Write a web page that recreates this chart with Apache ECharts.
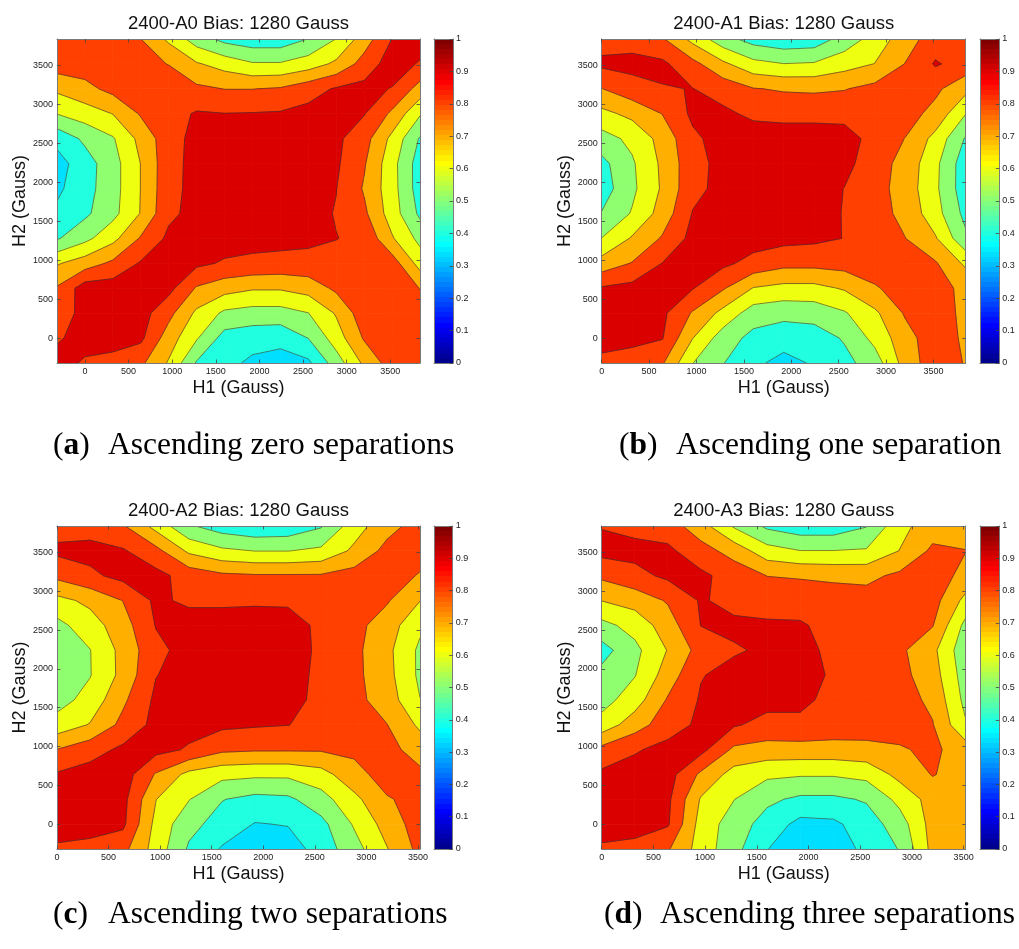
<!DOCTYPE html>
<html>
<head>
<meta charset="utf-8">
<script src="https://cdn.jsdelivr.net/npm/echarts@6/dist/echarts.min.js"></script>
<style>html,body{margin:0;padding:0;background:#fff}#c{width:1019px;height:949px}</style>
</head>
<body>
<div id="c"></div>
<script>
// ================= DATA =================
// H2 grid (rows, top to bottom) shared by all four maps
const h2Rows = [3840, 3520, 3200, 2880, 2560, 2240, 1920, 1600, 1280, 960, 640, 320, 0, -320];
// H1 grid (columns) of each map
const h1ColsA0 = [-320, 0, 320, 640, 960, 1280, 1600, 1920, 2240, 2560, 2880, 3200, 3520, 3840];
const h1ColsA1 = [0, 320, 640, 960, 1280, 1600, 1920, 2240, 2560, 2880, 3200, 3520, 3840];
const h1ColsA2 = [0, 320, 640, 960, 1280, 1600, 1920, 2240, 2560, 2880, 3200, 3520];
const h1ColsA3 = [0, 320, 640, 960, 1280, 1600, 1920, 2240, 2560, 2880, 3200, 3520];

// measured map values, one row per H2 value (top row = 3840)
const valuesA0 = [
  [0.86,0.85,0.84,0.801,0.68,0.55,0.47,0.44,0.44,0.502,0.602,0.75,0.902,0.95],
  [0.85,0.85,0.84,0.82,0.798,0.71,0.66,0.61,0.61,0.65,0.72,0.84,0.95,0.89],
  [0.72,0.77,0.83,0.85,0.84,0.82,0.798,0.798,0.81,0.86,0.91,0.93,0.895,0.76],
  [0.602,0.65,0.702,0.81,0.86,0.91,0.902,0.905,0.91,0.93,0.94,0.905,0.78,0.61],
  [0.43,0.52,0.59,0.73,0.86,0.93,0.95,0.95,0.95,0.94,0.92,0.84,0.673,0.49],
  [0.36,0.455,0.56,0.702,0.867,0.93,0.96,0.96,0.96,0.95,0.915,0.81,0.636,0.45],
  [0.38,0.462,0.56,0.702,0.87,0.93,0.95,0.95,0.95,0.94,0.902,0.79,0.64,0.45],
  [0.42,0.48,0.57,0.705,0.88,0.93,0.94,0.94,0.94,0.93,0.895,0.82,0.65,0.48],
  [0.49,0.572,0.67,0.81,0.92,0.94,0.94,0.93,0.93,0.92,0.902,0.88,0.71,0.57],
  [0.69,0.75,0.82,0.91,0.94,0.92,0.89,0.88,0.87,0.87,0.87,0.87,0.85,0.66],
  [0.81,0.95,0.95,0.95,0.93,0.79,0.74,0.71,0.71,0.74,0.82,0.86,0.85,0.798],
  [0.85,0.93,0.95,0.94,0.83,0.68,0.58,0.56,0.56,0.598,0.71,0.86,0.85,0.82],
  [0.89,0.93,0.95,0.92,0.75,0.61,0.46,0.44,0.43,0.502,0.65,0.81,0.86,0.85],
  [0.93,0.89,0.86,0.82,0.69,0.49,0.43,0.38,0.36,0.38,0.55,0.72,0.85,0.85]
];
const valuesA1 = [
  [0.86,0.86,0.81,0.67,0.538,0.46,0.43,0.44,0.54,0.64,0.754,0.85,0.86],
  [0.92,0.93,0.92,0.83,0.72,0.63,0.602,0.61,0.66,0.702,0.802,0.91,0.86],
  [0.797,0.86,0.895,0.902,0.86,0.805,0.79,0.785,0.795,0.83,0.85,0.82,0.73],
  [0.672,0.726,0.802,0.92,0.92,0.88,0.87,0.87,0.87,0.87,0.84,0.77,0.602],
  [0.56,0.624,0.735,0.88,0.94,0.95,0.95,0.95,0.94,0.867,0.798,0.668,0.49],
  [0.47,0.586,0.719,0.865,0.93,0.95,0.96,0.96,0.93,0.844,0.767,0.625,0.44],
  [0.45,0.578,0.713,0.872,0.93,0.95,0.95,0.95,0.898,0.839,0.757,0.62,0.44],
  [0.505,0.608,0.741,0.905,0.94,0.94,0.94,0.94,0.895,0.84,0.773,0.64,0.47],
  [0.602,0.71,0.81,0.93,0.94,0.94,0.93,0.92,0.898,0.86,0.802,0.71,0.52],
  [0.74,0.805,0.902,0.93,0.92,0.87,0.83,0.83,0.84,0.85,0.84,0.81,0.68],
  [0.91,0.93,0.93,0.905,0.81,0.695,0.67,0.67,0.71,0.79,0.84,0.83,0.78],
  [0.93,0.94,0.92,0.79,0.67,0.55,0.53,0.54,0.59,0.68,0.81,0.84,0.78],
  [0.93,0.93,0.905,0.702,0.55,0.47,0.44,0.45,0.51,0.63,0.76,0.86,0.78],
  [0.88,0.85,0.81,0.602,0.504,0.42,0.37,0.41,0.47,0.55,0.74,0.86,0.793]
];
const valuesA2 = [
  [0.86,0.86,0.81,0.665,0.512,0.45,0.42,0.43,0.49,0.653,0.765,0.84],
  [0.92,0.93,0.91,0.83,0.68,0.62,0.598,0.598,0.62,0.72,0.83,0.85],
  [0.825,0.88,0.93,0.93,0.86,0.82,0.81,0.81,0.81,0.84,0.86,0.79],
  [0.67,0.723,0.802,0.92,0.88,0.88,0.885,0.885,0.87,0.85,0.81,0.702],
  [0.57,0.655,0.757,0.905,0.95,0.95,0.95,0.94,0.88,0.832,0.75,0.62],
  [0.54,0.597,0.732,0.872,0.94,0.96,0.96,0.95,0.88,0.826,0.727,0.58],
  [0.54,0.595,0.73,0.897,0.94,0.95,0.95,0.94,0.877,0.827,0.734,0.58],
  [0.56,0.637,0.781,0.92,0.94,0.94,0.94,0.93,0.876,0.83,0.753,0.602],
  [0.64,0.706,0.828,0.93,0.93,0.92,0.91,0.902,0.87,0.86,0.802,0.68],
  [0.802,0.86,0.92,0.93,0.89,0.82,0.81,0.81,0.81,0.82,0.83,0.76],
  [0.91,0.94,0.95,0.79,0.67,0.63,0.62,0.62,0.66,0.767,0.84,0.82],
  [0.93,0.95,0.93,0.702,0.604,0.504,0.47,0.48,0.56,0.672,0.792,0.83],
  [0.93,0.94,0.92,0.67,0.53,0.46,0.395,0.405,0.47,0.61,0.74,0.85],
  [0.89,0.87,0.83,0.658,0.486,0.39,0.35,0.35,0.443,0.56,0.695,0.83]
];
const valuesA3 = [
  [0.895,0.87,0.85,0.74,0.587,0.48,0.44,0.44,0.495,0.67,0.75,0.76],
  [0.93,0.93,0.92,0.84,0.76,0.64,0.602,0.602,0.61,0.702,0.82,0.802],
  [0.82,0.87,0.92,0.92,0.86,0.798,0.79,0.78,0.775,0.82,0.85,0.77],
  [0.702,0.74,0.81,0.91,0.87,0.87,0.86,0.85,0.84,0.84,0.84,0.67],
  [0.57,0.636,0.752,0.902,0.92,0.91,0.91,0.87,0.86,0.85,0.805,0.57],
  [0.46,0.573,0.705,0.84,0.89,0.915,0.94,0.87,0.84,0.82,0.726,0.53],
  [0.53,0.595,0.748,0.895,0.93,0.94,0.93,0.89,0.85,0.83,0.747,0.55],
  [0.56,0.654,0.81,0.91,0.93,0.93,0.92,0.875,0.85,0.84,0.78,0.57],
  [0.64,0.754,0.856,0.92,0.91,0.87,0.88,0.86,0.85,0.84,0.805,0.61],
  [0.83,0.89,0.93,0.93,0.78,0.76,0.76,0.76,0.77,0.79,0.82,0.75],
  [0.92,0.94,0.94,0.78,0.66,0.62,0.61,0.61,0.63,0.73,0.805,0.76],
  [0.93,0.94,0.92,0.69,0.602,0.52,0.48,0.48,0.51,0.63,0.74,0.76],
  [0.93,0.94,0.91,0.66,0.55,0.46,0.37,0.38,0.45,0.55,0.74,0.76],
  [0.89,0.87,0.81,0.656,0.533,0.402,0.35,0.35,0.423,0.505,0.73,0.76]
];

// tick labels
const h1TickValues = [0, 500, 1000, 1500, 2000, 2500, 3000, 3500];
const h2TickValues = [0, 500, 1000, 1500, 2000, 2500, 3000, 3500];
const colorbarTicks = [0, 0.1, 0.2, 0.3, 0.4, 0.5, 0.6, 0.7, 0.8, 0.9, 1];
const contourLevels = [0.4, 0.5, 0.6, 0.7, 0.8, 0.9];

// texts
const mapTitles = ['2400-A0 Bias: 1280 Gauss', '2400-A1 Bias: 1280 Gauss', '2400-A2 Bias: 1280 Gauss', '2400-A3 Bias: 1280 Gauss'];
const captionLetters = ['a', 'b', 'c', 'd'];
const captionTexts = ['Ascending zero separations', 'Ascending one separation', 'Ascending two separations', 'Ascending three separations'];

// ================= STYLE / LAYOUT =================
const SANS = 'Liberation Sans, Arial, sans-serif';
const SERIF = 'Liberation Serif, Times New Roman, serif';
const bandEdges = [-1, 0.4, 0.5, 0.6, 0.7, 0.8, 0.9, 2];
const bandColors = ['rgb(0,223,255)', 'rgb(32,255,223)', 'rgb(143,255,112)', 'rgb(239,255,16)', 'rgb(255,175,0)', 'rgb(255,64,0)', 'rgb(218,0,0)'];
const layout = [
  {grid: [57, 39, 363, 324], cbar: [434, 39, 19, 324], title: [238.5, 24], cap: [53, 108, 446]},
  {grid: [601.7, 39, 364, 324], cbar: [980, 39, 19.3, 324], title: [783.7, 24], cap: [619, 676, 446]},
  {grid: [57, 526, 363, 323], cbar: [434, 526, 18.7, 323], title: [238.5, 511], cap: [53, 108, 915]},
  {grid: [601.7, 526, 364, 323], cbar: [980, 526, 19.3, 323], title: [783.7, 511], cap: [604, 660, 915]}
];
const panels = [
  {xs: h1ColsA0, vals: valuesA0},
  {xs: h1ColsA1, vals: valuesA1},
  {xs: h1ColsA2, vals: valuesA2},
  {xs: h1ColsA3, vals: valuesA3}
];

// MATLAB-style jet(64) colormap for the colorbar
function jetMap(m) {
  const n = Math.ceil(m / 4), u = [];
  for (let i = 1; i <= n; i++) u.push(i / n);
  for (let i = 0; i < n - 1; i++) u.push(1);
  for (let i = n; i >= 1; i--) u.push(i / n);
  const gOff = Math.ceil(n / 2) - (m % 4 === 1 ? 1 : 0);
  const J = [];
  for (let i = 0; i < m; i++) J.push([0, 0, 0]);
  for (let k = 0; k < u.length; k++) {
    const g = gOff + k + 1, r = g + n, b = g - n;
    if (g <= m) J[g - 1][1] = u[k];
    if (r <= m) J[r - 1][0] = u[k];
    if (b >= 1) J[b - 1][2] = u[k];
  }
  return J.map(c => 'rgb(' + c.map(v => Math.round(v * 255)).join(',') + ')');
}
const jet = jetMap(64);
const jetStops = [];
jet.forEach((c, i) => { jetStops.push({offset: i / 64, color: c}); jetStops.push({offset: (i + 1) / 64, color: c}); });

// ---- contour geometry (clip each grid cell against level values) ----
function crossPt(S, E, L) {
  const t = (L - S[2]) / (E[2] - S[2]);
  return [S[0] + t * (E[0] - S[0]), S[1] + t * (E[1] - S[1]), L, true];
}
function clipPoly(poly, L, above) {
  const out = [], n = poly.length;
  if (!n) return out;
  const inside = p => above ? p[2] >= L : p[2] <= L;
  let S = poly[n - 1];
  for (let k = 0; k < n; k++) {
    const E = poly[k], eIn = inside(E), sIn = inside(S);
    if (eIn) { if (!sIn) out.push(crossPt(S, E, L)); out.push([E[0], E[1], E[2], E[3]]); }
    else if (sIn) out.push(crossPt(S, E, L));
    S = E;
  }
  return out;
}
function cellPoly(p, i, j) {
  const xs = p.xs, v = p.vals;
  return [
    [xs[i], h2Rows[j], v[j][i], false],
    [xs[i + 1], h2Rows[j], v[j][i + 1], false],
    [xs[i + 1], h2Rows[j + 1], v[j + 1][i + 1], false],
    [xs[i], h2Rows[j + 1], v[j + 1][i], false]
  ];
}
function makeFill(p) {
  return function (params, api) {
    const i = api.value(2), j = api.value(3);
    const poly = cellPoly(p, i, j), children = [];
    for (let b = 0; b < bandEdges.length - 1; b++) {
      let q = clipPoly(poly, bandEdges[b], true);
      q = clipPoly(q, bandEdges[b + 1], false);
      if (q.length < 3) continue;
      children.push({type: 'polygon', shape: {points: q.map(t => api.coord([t[0], t[1]]))},
        style: {fill: bandColors[b], stroke: bandColors[b], lineWidth: 0.8}});
    }
    return {type: 'group', children};
  };
}
function makeLines(p) {
  return function (params, api) {
    const i = api.value(2), j = api.value(3);
    const poly = cellPoly(p, i, j), children = [];
    contourLevels.forEach(L => {
      const q = clipPoly(poly, L, true), n = q.length;
      if (n < 3) return;
      for (let k = 0; k < n; k++) {
        const a = q[k], b = q[(k + 1) % n];
        if (a[3] && b[3]) {
          const pa = api.coord([a[0], a[1]]), pb = api.coord([b[0], b[1]]);
          children.push({type: 'line', shape: {x1: pa[0], y1: pa[1], x2: pb[0], y2: pb[1]},
            style: {stroke: '#333', lineWidth: 0.6}});
        }
      }
    });
    return {type: 'group', children};
  };
}
function colorbarRender(params, api) {
  const p0 = api.coord([0, 0]), p1 = api.coord([1, 1]);
  return {type: 'rect', shape: {x: p0[0], y: p1[1], width: p1[0] - p0[0], height: p0[1] - p1[1]},
    style: {fill: new echarts.graphic.LinearGradient(0, 1, 0, 0, jetStops)}};
}

function axisBase(extra, ticks, showLabel, labelExtra) {
  const a = {
    type: 'value', z: 10, silent: true,
    axisLine: {show: true, onZero: false, lineStyle: {color: '#7a7a7a', width: 1}},
    axisTick: {show: true, inside: true, length: 3.5, customValues: ticks, lineStyle: {color: '#444', width: 0.8}},
    axisLabel: Object.assign({show: showLabel, customValues: ticks, fontSize: 9, color: '#222', fontFamily: SANS, margin: 4,
      formatter: v => String(v)}, labelExtra || {}),
    splitLine: {show: false}, splitArea: {show: false}
  };
  return Object.assign(a, extra);
}

const grids = [], xAxes = [], yAxes = [], series = [], elements = [];
const yMin = Math.min.apply(null, h2Rows), yMax = Math.max.apply(null, h2Rows);
panels.forEach((p, k) => {
  const L = layout[k];
  const gMain = grids.length;
  grids.push({left: L.grid[0], top: L.grid[1], width: L.grid[2], height: L.grid[3], containLabel: false, outerBoundsMode: 'none'});
  const gBar = grids.length;
  grids.push({left: L.cbar[0], top: L.cbar[1], width: L.cbar[2], height: L.cbar[3], containLabel: false, outerBoundsMode: 'none'});
  const xMin = p.xs[0], xMax = p.xs[p.xs.length - 1];
  const xb = xAxes.length;
  xAxes.push(axisBase({gridIndex: gMain, position: 'bottom', min: xMin, max: xMax,
    name: 'H1 (Gauss)', nameLocation: 'middle', nameGap: 16,
    nameTextStyle: {fontSize: 18, fontFamily: SANS, color: '#111'}}, h1TickValues, true));
  xAxes.push(axisBase({gridIndex: gMain, position: 'top', min: xMin, max: xMax}, h1TickValues, false));
  const xc = xAxes.length;
  xAxes.push({type: 'value', gridIndex: gBar, min: 0, max: 1, show: false});
  const yl = yAxes.length;
  yAxes.push(axisBase({gridIndex: gMain, position: 'left', min: yMin, max: yMax,
    name: 'H2 (Gauss)', nameLocation: 'middle', nameGap: 25, nameRotate: 90,
    nameTextStyle: {fontSize: 18, fontFamily: SANS, color: '#111'}}, h2TickValues, true));
  yAxes.push(axisBase({gridIndex: gMain, position: 'right', min: yMin, max: yMax}, h2TickValues, false));
  const yc = yAxes.length;
  yAxes.push(axisBase({gridIndex: gBar, position: 'right', min: 0, max: 1}, colorbarTicks, true,
    {margin: 3, formatter: v => String(Math.round(v * 10) / 10)}));
  // box for colorbar (left/top/bottom lines)
  yAxes.push({type: 'value', gridIndex: gBar, position: 'left', min: 0, max: 1, z: 10,
    axisLine: {show: true, onZero: false, lineStyle: {color: '#7a7a7a'}}, axisTick: {show: false}, axisLabel: {show: false}, splitLine: {show: false}});
  xAxes.push({type: 'value', gridIndex: gBar, position: 'top', min: 0, max: 1, z: 10,
    axisLine: {show: true, onZero: false, lineStyle: {color: '#7a7a7a'}}, axisTick: {show: false}, axisLabel: {show: false}, splitLine: {show: false}});
  xAxes.push({type: 'value', gridIndex: gBar, position: 'bottom', min: 0, max: 1, z: 10,
    axisLine: {show: true, onZero: false, lineStyle: {color: '#7a7a7a'}}, axisTick: {show: false}, axisLabel: {show: false}, splitLine: {show: false}});

  const cells = [];
  for (let j = 0; j < h2Rows.length - 1; j++)
    for (let i = 0; i < p.xs.length - 1; i++)
      cells.push([(p.xs[i] + p.xs[i + 1]) / 2, (h2Rows[j] + h2Rows[j + 1]) / 2, i, j]);
  series.push({type: 'custom', coordinateSystem: 'cartesian2d', xAxisIndex: xb, yAxisIndex: yl,
    data: cells, renderItem: makeFill(p), silent: true, animation: false, z: 2, clip: true});
  series.push({type: 'custom', coordinateSystem: 'cartesian2d', xAxisIndex: xb, yAxisIndex: yl,
    data: cells, renderItem: makeLines(p), silent: true, animation: false, z: 3, clip: true});
  series.push({type: 'custom', coordinateSystem: 'cartesian2d', xAxisIndex: xc, yAxisIndex: yc,
    data: [[0.5, 0.5]], renderItem: colorbarRender, silent: true, animation: false, z: 2});

  elements.push({type: 'text', x: L.title[0], y: L.title[1], silent: true,
    style: {text: mapTitles[k], fontSize: 18.5, fontFamily: SANS, fill: '#111', align: 'center', verticalAlign: 'middle'}});
  elements.push({type: 'text', x: L.cap[0], y: L.cap[2], silent: true,
    style: {text: '{n|(}{b|' + captionLetters[k] + '}{n|)}', align: 'left', verticalAlign: 'middle', fill: '#000',
      rich: {n: {fontSize: 31.5, fontFamily: SERIF, fill: '#000'}, b: {fontSize: 31.5, fontFamily: SERIF, fontWeight: 'bold', fill: '#000'}}}});
  elements.push({type: 'text', x: L.cap[1], y: L.cap[2], silent: true,
    style: {text: captionTexts[k], fontSize: 31.5, fontFamily: SERIF, fill: '#000', align: 'left', verticalAlign: 'middle'}});
});

const chart = echarts.init(document.getElementById('c'), null, {renderer: 'canvas', width: 1019, height: 949});
chart.setOption({
  backgroundColor: '#ffffff',
  animation: false,
  textStyle: {fontFamily: SANS},
  grid: grids, xAxis: xAxes, yAxis: yAxes, series: series,
  graphic: {elements: elements}
});
</script>
</body>
</html>
